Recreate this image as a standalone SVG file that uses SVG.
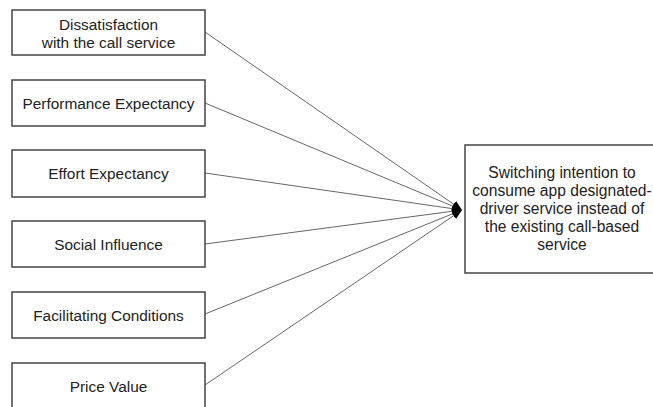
<svg xmlns="http://www.w3.org/2000/svg" width="653" height="407" viewBox="0 0 653 407">
<style>
.box{fill:#fff;stroke:#444;stroke-width:1.5}
.t{font-family:"Liberation Sans",Arial,sans-serif;font-size:15.4px;fill:#222;text-anchor:middle}
.r{font-size:15.6px}
.c{stroke:#666;stroke-width:1;fill:none}
</style>
<defs>
<marker id="ah" markerUnits="userSpaceOnUse" markerWidth="12" markerHeight="10" refX="10" refY="4" orient="auto">
<path d="M0,0 L10,4 L0,8 z" fill="#000"/>
</marker>
</defs>
<rect width="653" height="407" fill="#fff"/>
<g id="connectors">
<line class="c" x1="205" y1="32" x2="462" y2="210" marker-end="url(#ah)"/>
<line class="c" x1="205" y1="103" x2="462" y2="210" marker-end="url(#ah)"/>
<line class="c" x1="205" y1="173" x2="462" y2="210" marker-end="url(#ah)"/>
<line class="c" x1="205" y1="244" x2="462" y2="210" marker-end="url(#ah)"/>
<line class="c" x1="205" y1="314" x2="462" y2="210" marker-end="url(#ah)"/>
<line class="c" x1="205" y1="385" x2="462" y2="210" marker-end="url(#ah)"/>
</g>
<g id="n1"><rect class="box" x="12" y="10" width="193" height="45"/><text class="t" x="108.5" y="30">Dissatisfaction</text><text class="t" x="108.5" y="47.5">with the call service</text></g>
<g id="n2"><rect class="box" x="12" y="80" width="193" height="46"/><text class="t" x="108.5" y="109">Performance Expectancy</text></g>
<g id="n3"><rect class="box" x="12" y="150" width="193" height="47"/><text class="t" x="108.5" y="179">Effort Expectancy</text></g>
<g id="n4"><rect class="box" x="12" y="221" width="193" height="46"/><text class="t" x="108.5" y="250">Social Influence</text></g>
<g id="n5"><rect class="box" x="12" y="292" width="193" height="46"/><text class="t" x="108.5" y="321">Facilitating Conditions</text></g>
<g id="n6"><rect class="box" x="12" y="363" width="193" height="50"/><text class="t" x="108.5" y="392">Price Value</text></g>
<g id="target"><rect class="box" x="465" y="145" width="200" height="128"/>
<text class="t r" x="562" y="178">Switching intention to</text>
<text class="t r" x="562" y="196">consume app designated-</text>
<text class="t r" x="562" y="214">driver service instead of</text>
<text class="t r" x="562" y="232">the existing call-based</text>
<text class="t r" x="562" y="250">service</text>
</g>
</svg>
